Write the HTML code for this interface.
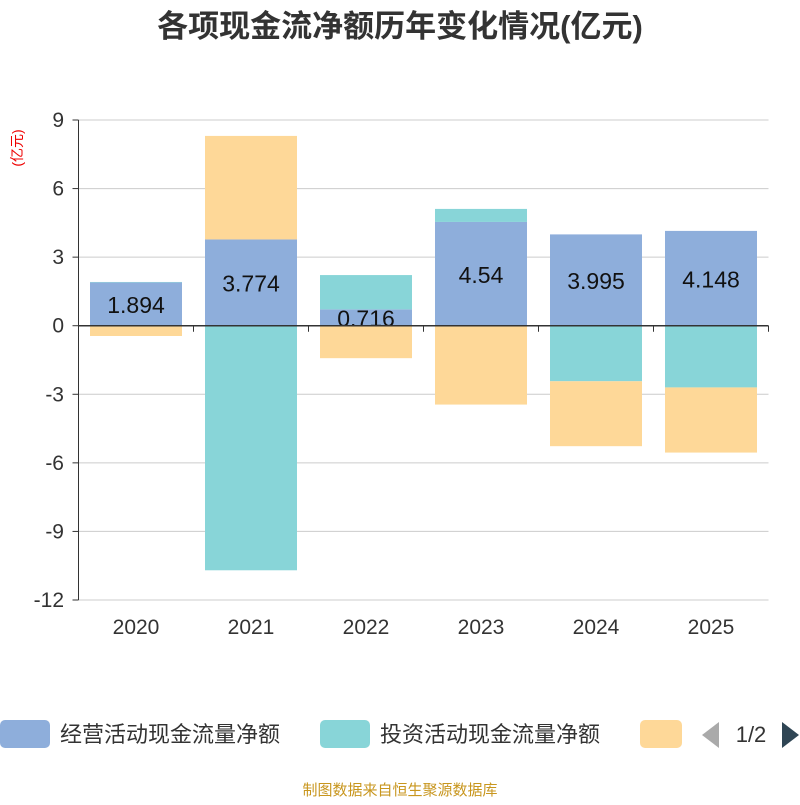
<!DOCTYPE html>
<html><head><meta charset="utf-8"><style>
body{margin:0;background:#fff;font-family:"Liberation Sans","Noto Sans CJK SC",sans-serif;}
</style></head><body>
<svg id="chart" width="800" height="800" xmlns="http://www.w3.org/2000/svg" style="font-family:'Liberation Sans','Noto Sans CJK SC',sans-serif">
<text x="400" y="37" text-anchor="middle" font-size="31" font-weight="bold" fill="#333">各项现金流净额历年变化情况(亿元)</text>
<text transform="translate(22,148) rotate(-90)" text-anchor="middle" font-size="14" fill="#e00">(亿元)</text>
<g id="grid"></g><g id="bars"></g><g id="axes"></g>
<g>
<g><rect x="0" y="720" width="50" height="28" rx="5" fill="#8eaedb"/><text x="60" y="742" font-size="22" fill="#333">经营活动现金流量净额</text></g>
<g><rect x="320" y="720" width="50" height="28" rx="5" fill="#88d5d8"/><text x="380" y="742" font-size="22" fill="#333">投资活动现金流量净额</text></g>
<g><rect x="640" y="720" width="42" height="28" rx="5" fill="#fed898"/></g>
<path d="M719 722 L702 735 L719 748 Z" fill="#aaa"/>
<text x="751" y="742" text-anchor="middle" font-size="22" fill="#333">1/2</text>
<path d="M782 722 L799 735 L782 748 Z" fill="#2f4554"/>
</g>
<text x="400" y="795" text-anchor="middle" font-size="15" fill="#c8961e">制图数据来自恒生聚源数据库</text>
</svg>
<script>
const categories=["2020","2021","2022","2023","2024","2025"];
const operating=[1.894,3.774,0.716,4.54,3.995,4.148];
const investing=[0.02,-10.7,1.5,0.57,-2.43,-2.7];
const financing=[-0.45,4.53,-1.42,-3.45,-2.84,-2.85];
const yTicks=[9,6,3,0,-3,-6,-9,-12];
const NS="http://www.w3.org/2000/svg";
const x0=78.5,x1=768.5,yTop=120,yBot=600,yMax=9,yMin=-12;
const band=(x1-x0)/categories.length;
const y=v=>yTop+(yMax-v)/(yMax-yMin)*(yBot-yTop);
const xc=i=>x0+band*(i+0.5);
function el(t,a,p){const e=document.createElementNS(NS,t);for(const k in a)e.setAttribute(k,a[k]);p.appendChild(e);return e;}
const grid=document.getElementById('grid'),bars=document.getElementById('bars'),axes=document.getElementById('axes');
yTicks.forEach(t=>{
 const l=el('line',{x1:x0,x2:x1,y1:y(t),y2:y(t),stroke:'#ccc','stroke-width':1},grid);
 
 
 const tx=el('text',{x:64,y:y(t)+7,'text-anchor':'end','font-size':21,fill:'#333'},axes);
 tx.textContent=t;
 
 
});
const series=[["operating",operating,"#8eaedb"],["investing",investing,"#88d5d8"],["financing",financing,"#fed898"]];
const pos=categories.map(()=>0),neg=categories.map(()=>0);
const bw=92;
series.forEach(([name,vals,col])=>{
 vals.forEach((v,i)=>{
  let a,b;
  if(v>=0){a=pos[i];b=pos[i]+v;pos[i]=b;}else{a=neg[i];b=neg[i]+v;neg[i]=b;}
  const r=el('rect',{x:xc(i)-bw/2,y:Math.min(y(a),y(b)),width:bw,height:Math.abs(y(a)-y(b)),fill:col},bars);
  
  
  if(name==="operating"){
   const t=el('text',{x:xc(i),y:(y(a)+y(b))/2+9,'text-anchor':'middle','font-size':23,fill:'#111'},bars);
   t.textContent=v;
   
   
  }
 });
});
const ax=el('line',{x1:x0,x2:x1,y1:y(0),y2:y(0),stroke:'#333','stroke-width':1.5},axes);


const ya=el('line',{x1:x0,x2:x0,y1:yTop,y2:yBot,stroke:'#333','stroke-width':1},axes);


for(let i=0;i<=categories.length;i++){
 const tk=el('line',{x1:x0+band*i,x2:x0+band*i,y1:y(0),y2:y(0)+6,stroke:'#333'},axes);
 
 
}
yTicks.forEach(t=>{
 const tk=el('line',{x1:x0-6,x2:x0,y1:y(t),y2:y(t),stroke:'#333'},axes);
 
 
});
categories.forEach((c,i)=>{
 const t=el('text',{x:xc(i),y:634,'text-anchor':'middle','font-size':21,fill:'#333'},axes);
 t.textContent=c;
 
 
});
</script>
</body></html>
